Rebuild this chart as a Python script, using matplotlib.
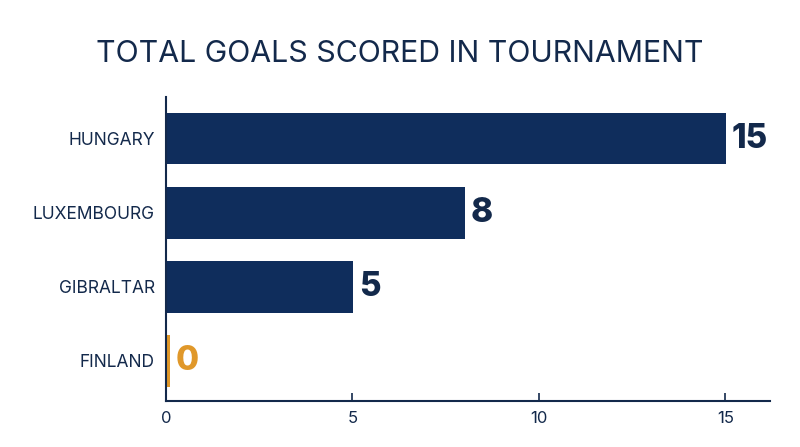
import matplotlib.pyplot as plt

# данные
countries = ['HUNGARY', 'LUXEMBOURG', 'GIBRALTAR', 'FINLAND']
goals = [15, 8, 5, 0]
bar_colors = ['#0f2d5c', '#0f2d5c', '#0f2d5c', '#e0982a']
label_colors = ['#13294b', '#13294b', '#13294b', '#e0982a']
navy = '#13294b'

plt.rcParams['font.family'] = ['Inter', 'DejaVu Sans']

fig = plt.figure(figsize=(8, 4.47), dpi=100)
ax = fig.add_axes([0.2075, 0.103, 0.755, 0.680])

ypos = list(range(len(countries)))
# нулевой столбец рисуем узкой полоской, как в оригинале
widths = [g if g > 0 else 0.1 for g in goals]
ax.barh(ypos, widths, height=0.7, color=bar_colors, left=0.02)

for y, g, c in zip(ypos, goals, label_colors):
    ax.text(max(g, 0.1) + 0.17, y, str(g), va='center', ha='left',
            fontsize=24, fontweight='heavy', color=c)

ax.set_yticks(ypos)
ax.set_yticklabels(countries, fontsize=12.5, color=navy)
ax.set_xticks([0, 5, 10, 15])
ax.set_xticklabels(['0', '5', '10', '15'], fontsize=12, color=navy)
ax.set_xlim(0, 16.2)
ax.set_ylim(3.54, -0.56)

ax.tick_params(axis='y', length=0, pad=8)
ax.tick_params(axis='x', direction='in', length=6, width=1.2, color=navy, pad=7)

for s in ['top', 'right']:
    ax.spines[s].set_visible(False)
for s in ['left', 'bottom']:
    ax.spines[s].set_color(navy)
    ax.spines[s].set_linewidth(1.5)

fig.text(0.5, 0.88, 'TOTAL GOALS SCORED IN TOURNAMENT', ha='center', va='center',
         fontsize=21.8, color=navy)

fig.savefig('out.png', dpi=100)
